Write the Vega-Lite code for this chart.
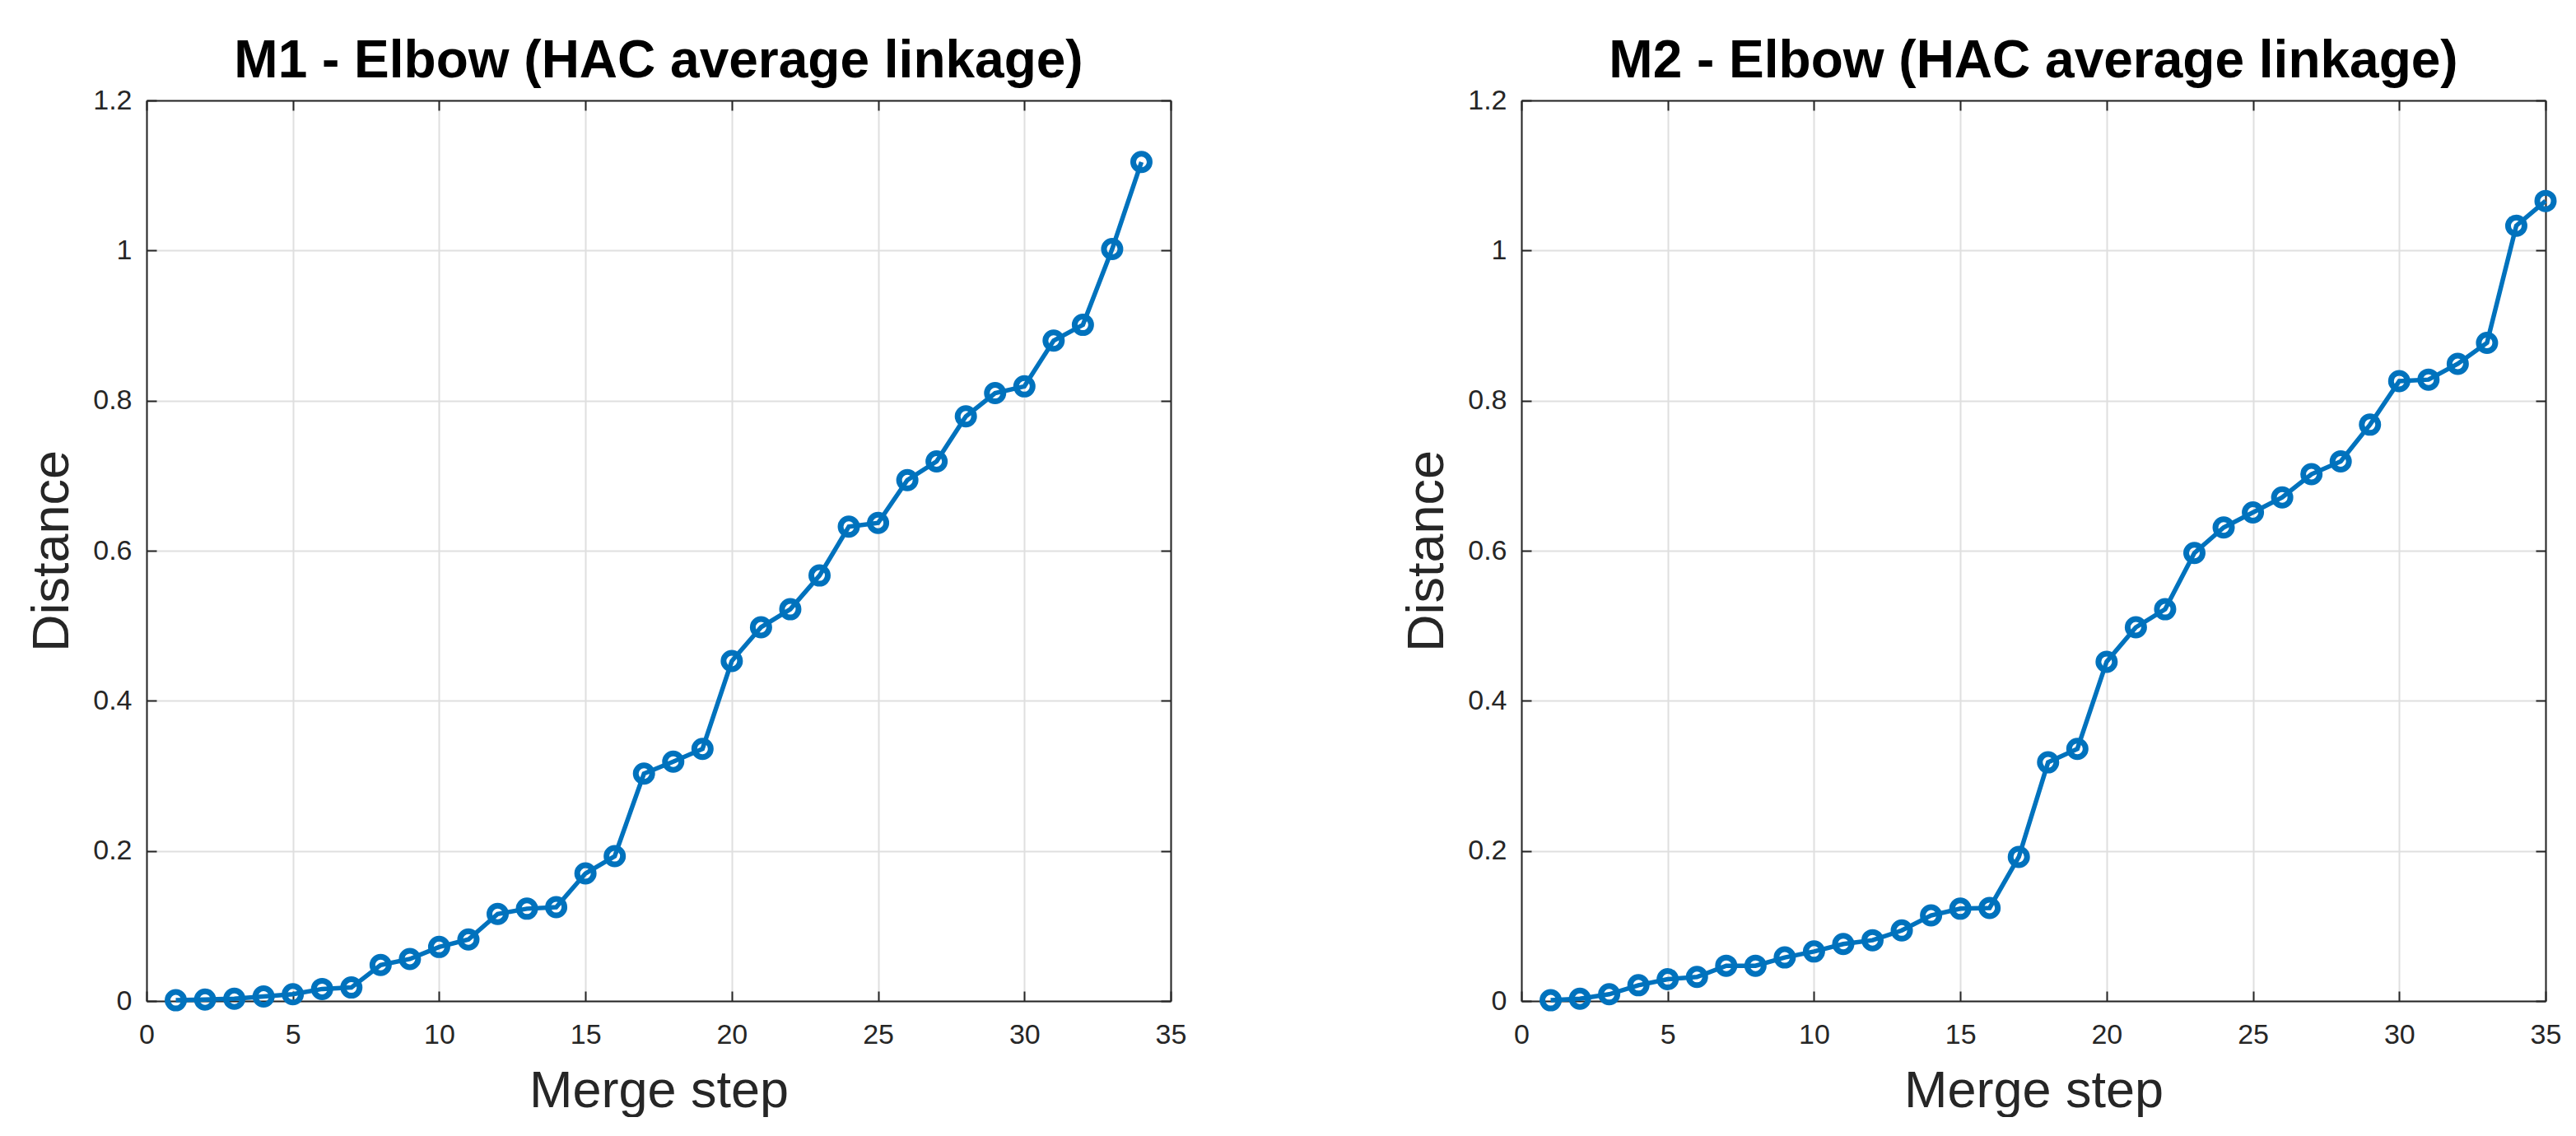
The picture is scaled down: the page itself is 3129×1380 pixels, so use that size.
{
  "$schema": "https://vega.github.io/schema/vega-lite/v6.json",
  "padding": {"left": 32, "top": 43, "right": 0, "bottom": 0},
  "background": "white",
  "config": {
    "font": "Liberation Sans",
    "view": {"stroke": null},
    "axis": {
      "domainColor": "#262626", "domainWidth": 2,
      "tickColor": "#262626", "tickWidth": 2, "tickSize": -12,
      "gridColor": "#dfdfdf", "gridWidth": 2,
      "labelFlush": false, "labelOverlap": false,
      "labelFont": "Liberation Sans", "labelFontSize": 34, "labelColor": "#262626",
      "titleFont": "Liberation Sans", "titleFontSize": 63, "titleFontWeight": "normal", "titleColor": "#262626"
    },
    "title": {"font": "Liberation Sans", "fontSize": 64, "fontWeight": "bold", "color": "#000000", "offset": -2, "frame": "group", "anchor": "middle"}
  },
  "datasets": {
    "m1": [
      {"step": 1, "distance": 0.001}, {"step": 2, "distance": 0.002}, {"step": 3, "distance": 0.003},
      {"step": 4, "distance": 0.006}, {"step": 5, "distance": 0.009}, {"step": 6, "distance": 0.016},
      {"step": 7, "distance": 0.018}, {"step": 8, "distance": 0.048}, {"step": 9, "distance": 0.056},
      {"step": 10, "distance": 0.072}, {"step": 11, "distance": 0.082}, {"step": 12, "distance": 0.116},
      {"step": 13, "distance": 0.123}, {"step": 14, "distance": 0.125}, {"step": 15, "distance": 0.170},
      {"step": 16, "distance": 0.193}, {"step": 17, "distance": 0.303}, {"step": 18, "distance": 0.319},
      {"step": 19, "distance": 0.336}, {"step": 20, "distance": 0.453}, {"step": 21, "distance": 0.498},
      {"step": 22, "distance": 0.522}, {"step": 23, "distance": 0.567}, {"step": 24, "distance": 0.632},
      {"step": 25, "distance": 0.637}, {"step": 26, "distance": 0.694}, {"step": 27, "distance": 0.719},
      {"step": 28, "distance": 0.779}, {"step": 29, "distance": 0.810}, {"step": 30, "distance": 0.819},
      {"step": 31, "distance": 0.880}, {"step": 32, "distance": 0.901}, {"step": 33, "distance": 1.002},
      {"step": 34, "distance": 1.118}
    ],
    "m2": [
      {"step": 1, "distance": 0.001}, {"step": 2, "distance": 0.003}, {"step": 3, "distance": 0.009},
      {"step": 4, "distance": 0.021}, {"step": 5, "distance": 0.029}, {"step": 6, "distance": 0.032},
      {"step": 7, "distance": 0.047}, {"step": 8, "distance": 0.047}, {"step": 9, "distance": 0.058},
      {"step": 10, "distance": 0.066}, {"step": 11, "distance": 0.076}, {"step": 12, "distance": 0.081},
      {"step": 13, "distance": 0.094}, {"step": 14, "distance": 0.114}, {"step": 15, "distance": 0.123},
      {"step": 16, "distance": 0.124}, {"step": 17, "distance": 0.192}, {"step": 18, "distance": 0.318},
      {"step": 19, "distance": 0.336}, {"step": 20, "distance": 0.452}, {"step": 21, "distance": 0.498},
      {"step": 22, "distance": 0.522}, {"step": 23, "distance": 0.597}, {"step": 24, "distance": 0.631},
      {"step": 25, "distance": 0.651}, {"step": 26, "distance": 0.671}, {"step": 27, "distance": 0.702},
      {"step": 28, "distance": 0.719}, {"step": 29, "distance": 0.768}, {"step": 30, "distance": 0.826},
      {"step": 31, "distance": 0.828}, {"step": 32, "distance": 0.849}, {"step": 33, "distance": 0.877},
      {"step": 34, "distance": 1.033}, {"step": 35, "distance": 1.066}
    ]
  },
  "spacing": 261,
  "hconcat": [
    {
      "width": 1244, "height": 1094,
      "title": "M1 - Elbow (HAC average linkage)",
      "data": {"name": "m1"},
      "layer": [
        {
          "mark": {"type": "line", "color": "#0072BD", "strokeWidth": 5.5},
          "encoding": {
            "x": {"field": "step", "type": "quantitative", "scale": {"domain": [0, 35], "nice": false},
                  "axis": {"title": "Merge step", "values": [0, 5, 10, 15, 20, 25, 30, 35], "format": "d", "grid": true, "labelPadding": 36, "titlePadding": 20}},
            "y": {"field": "distance", "type": "quantitative", "scale": {"domain": [0, 1.2], "nice": false},
                  "axis": {"title": "Distance", "values": [0, 0.2, 0.4, 0.6, 0.8, 1, 1.2], "format": "~g", "grid": true, "labelPadding": 30, "titlePadding": 17}}
          }
        },
        {
          "mark": {"type": "point", "shape": "circle", "filled": false, "size": 400, "strokeWidth": 7, "color": "#0072BD", "opacity": 1},
          "encoding": {
            "x": {"field": "step", "type": "quantitative", "scale": {"domain": [0, 35], "nice": false},
                  "axis": {"orient": "top", "title": null, "labels": false, "values": [0, 5, 10, 15, 20, 25, 30, 35], "grid": false}},
            "y": {"field": "distance", "type": "quantitative", "scale": {"domain": [0, 1.2], "nice": false},
                  "axis": {"orient": "right", "title": null, "labels": false, "values": [0, 0.2, 0.4, 0.6, 0.8, 1, 1.2], "grid": false}}
          }
        }
      ],
      "resolve": {"axis": {"x": "independent", "y": "independent"}}
    },
    {
      "width": 1244, "height": 1094,
      "title": "M2 - Elbow (HAC average linkage)",
      "data": {"name": "m2"},
      "layer": [
        {
          "mark": {"type": "line", "color": "#0072BD", "strokeWidth": 5.5},
          "encoding": {
            "x": {"field": "step", "type": "quantitative", "scale": {"domain": [0, 35], "nice": false},
                  "axis": {"title": "Merge step", "values": [0, 5, 10, 15, 20, 25, 30, 35], "format": "d", "grid": true, "labelPadding": 36, "titlePadding": 20}},
            "y": {"field": "distance", "type": "quantitative", "scale": {"domain": [0, 1.2], "nice": false},
                  "axis": {"title": "Distance", "values": [0, 0.2, 0.4, 0.6, 0.8, 1, 1.2], "format": "~g", "grid": true, "labelPadding": 30, "titlePadding": 17}}
          }
        },
        {
          "mark": {"type": "point", "shape": "circle", "filled": false, "size": 400, "strokeWidth": 7, "color": "#0072BD", "opacity": 1},
          "encoding": {
            "x": {"field": "step", "type": "quantitative", "scale": {"domain": [0, 35], "nice": false},
                  "axis": {"orient": "top", "title": null, "labels": false, "values": [0, 5, 10, 15, 20, 25, 30, 35], "grid": false}},
            "y": {"field": "distance", "type": "quantitative", "scale": {"domain": [0, 1.2], "nice": false},
                  "axis": {"orient": "right", "title": null, "labels": false, "values": [0, 0.2, 0.4, 0.6, 0.8, 1, 1.2], "grid": false}}
          }
        }
      ],
      "resolve": {"axis": {"x": "independent", "y": "independent"}}
    }
  ]
}
